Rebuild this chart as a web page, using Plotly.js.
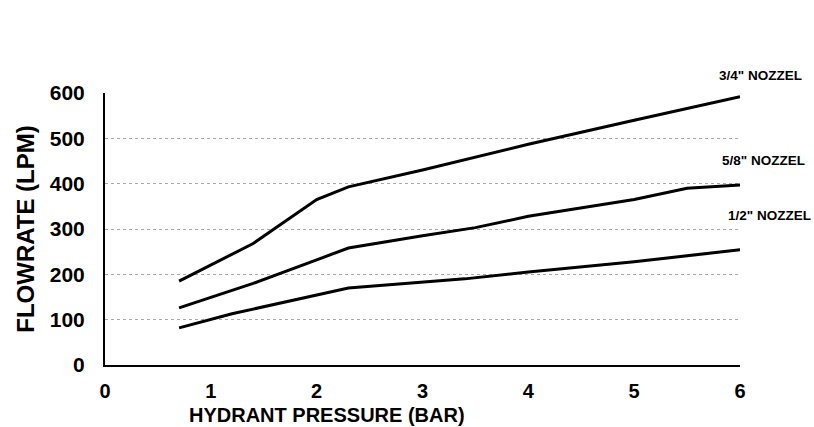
<!DOCTYPE html>
<html>
<head>
<meta charset="utf-8">
<script src="https://cdn.plot.ly/plotly-3.0.1.min.js"></script>
<style>html,body{margin:0;padding:0;background:#fff;}#chart{width:814px;height:427px;}</style>
</head>
<body>
<div id="chart"></div>
<script>
const seriesNames = ['3/4" NOZZEL', '5/8" NOZZEL', '1/2" NOZZEL'];
const pressure34 = [0.7, 1.4, 2.0, 2.3, 3, 4, 5, 6];
const flow34 = [185, 268, 365, 393, 430, 487, 540, 592];
const pressure58 = [0.7, 1.4, 2.0, 2.3, 3, 3.5, 4, 5, 5.5, 6];
const flow58 = [126, 180, 232, 258, 285, 303, 328, 365, 390, 397];
const pressure12 = [0.7, 1.2, 2.3, 3.4, 4, 5, 6];
const flow12 = [82, 113, 170, 190, 205, 228, 254];
const xTicks = [0, 1, 2, 3, 4, 5, 6];
const yTicks = [0, 100, 200, 300, 400, 500, 600];

const lineStyle = {color: '#000', width: 3};
const traces = [
  {x: pressure34, y: flow34, name: seriesNames[0]},
  {x: pressure58, y: flow58, name: seriesNames[1]},
  {x: pressure12, y: flow12, name: seriesNames[2]}
].map(t => Object.assign(t, {type: 'scatter', mode: 'lines', line: lineStyle, showlegend: false, hoverinfo: 'skip'}));

const font = 'Arial, "Liberation Sans", sans-serif';
const labelFont = {family: font, size: 13.5, color: '#000', weight: 'bold'};

const layout = {
  width: 814, height: 427,
  margin: {l: 105, r: 74, t: 93, b: 62},
  paper_bgcolor: '#fff', plot_bgcolor: '#fff',
  xaxis: {
    range: [0, 6], tickvals: xTicks, ticktext: xTicks.map(String),
    showgrid: false, zeroline: false, showline: true, linecolor: '#000', linewidth: 2,
    ticks: '', ticklabelstandoff: 7,
    tickfont: {family: font, size: 20, color: '#000', weight: 'bold'}
  },
  yaxis: {
    range: [0, 600], tickvals: yTicks, ticktext: yTicks.map(String),
    showgrid: true, gridcolor: '#aaa', griddash: 'dot', gridwidth: 1,
    zeroline: false, showline: true, linecolor: '#000', linewidth: 2,
    ticks: '', ticklabelstandoff: 14,
    tickfont: {family: font, size: 21, color: '#000', weight: 'bold'},
    title: {text: 'FLOWRATE (LPM)', standoff: 8, font: {family: font, size: 24, color: '#000', weight: 'bold'}}
  },
  annotations: [
    {text: 'HYDRANT PRESSURE (BAR)', xref: 'paper', yref: 'paper', x: (327 - 105) / 635, y: -0.135,
     xanchor: 'center', yanchor: 'top', showarrow: false,
     font: {family: font, size: 20, color: '#000', weight: 'bold'}},
    {text: seriesNames[0], xref: 'paper', yref: 'paper', x: (804 - 105) / 635, y: (365 - 75) / 272,
     xanchor: 'right', yanchor: 'middle', showarrow: false, font: labelFont},
    {text: seriesNames[1], xref: 'paper', yref: 'paper', x: (807 - 105) / 635, y: (365 - 160) / 272,
     xanchor: 'right', yanchor: 'middle', showarrow: false, font: labelFont},
    {text: seriesNames[2], xref: 'paper', yref: 'paper', x: (813 - 105) / 635, y: (365 - 215) / 272,
     xanchor: 'right', yanchor: 'middle', showarrow: false, font: labelFont}
  ]
};

Plotly.newPlot('chart', traces, layout, {staticPlot: true, displayModeBar: false});
</script>
</body>
</html>
